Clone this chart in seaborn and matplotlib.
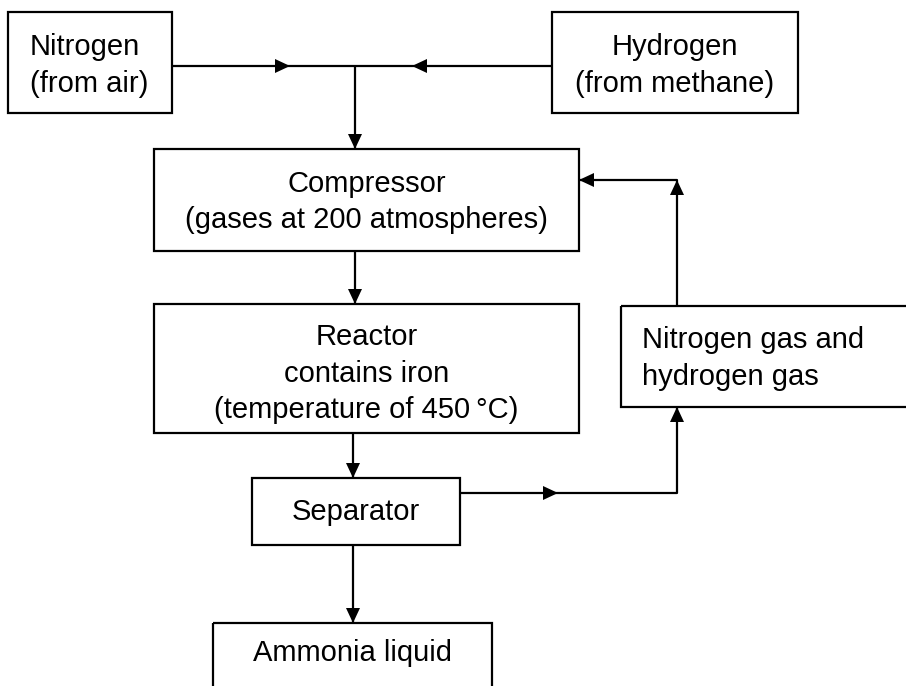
import matplotlib.pyplot as plt
import seaborn as sns
from matplotlib.patches import Rectangle, Polygon

# -----------------------------------
# DATA (labels of the flow diagram)
# -----------------------------------

nitrogen_label = "Nitrogen\n(from air)"
hydrogen_label = "Hydrogen\n(from methane)"
compressor_label = "Compressor\n(gases at 200 atmospheres)"
reactor_label = "Reactor\ncontains iron\n(temperature of 450\u2009\u00b0C)"
recycle_label = "Nitrogen gas and\nhydrogen gas"
separator_label = "Separator"
ammonia_label = "Ammonia liquid"

# -----------------------------------
# LAYOUT (pixel coords, y down)
# -----------------------------------

# name: (x0, y0, x1, y1)
boxes = {
    "nitrogen": (8, 12, 172, 113),
    "hydrogen": (552, 12, 798, 113),
    "compressor": (154, 149, 579, 251),
    "reactor": (154, 304, 579, 433),
    "recycle": (621, 306, 960, 407),
    "separator": (252, 478, 460, 545),
    "ammonia": (213, 623, 492, 760),
}

sns.set_style("white")
plt.rcParams["font.family"] = ["Liberation Sans", "DejaVu Sans"]

fig = plt.figure(figsize=(9.06, 6.86), dpi=100)
ax = fig.add_axes([0, 0, 1, 1])
ax.set_xlim(0, 906)
ax.set_ylim(686, 0)
ax.axis("off")

LW = 1.6
FS = 21


def box(name):
    x0, y0, x1, y1 = boxes[name]
    ax.add_patch(Rectangle((x0, y0), x1 - x0, y1 - y0, fill=False,
                           edgecolor="black", lw=LW, zorder=2))


def head(tip, direction, length=15, half=7):
    # filled triangle arrowhead
    tx, ty = tip
    dx, dy = direction
    bx, by = tx - dx * length, ty - dy * length
    px, py = -dy * half, dx * half
    ax.add_patch(Polygon([(tx, ty), (bx + px, by + py), (bx - px, by - py)],
                         closed=True, color="black", lw=0, zorder=3))


def line(xs, ys):
    ax.plot(xs, ys, color="black", lw=LW, solid_capstyle="butt", zorder=1)


for name in boxes:
    box(name)


def label(name, text, ha="center", dy=0, pad=0, dx=0, ma="center"):
    x0, y0, x1, y1 = boxes[name]
    x = (x0 + x1) / 2 if ha == "center" else x0 + pad
    ax.text(x + dx, (y0 + y1) / 2 + dy, text, ha=ha, va="center", fontsize=FS,
            linespacing=1.4, color="black", multialignment=ma)


label("nitrogen", nitrogen_label, dy=3, dx=-1, ma="left")
label("hydrogen", hydrogen_label, dy=3)
label("compressor", compressor_label, dy=2)
label("reactor", reactor_label, dy=5)
label("recycle", recycle_label, ha="left", pad=21, dy=2, ma="left")
label("separator", separator_label, dy=0)
ax.text((213 + 492) / 2, 653, ammonia_label, ha="center", va="center",
        fontsize=FS, color="black")

# feed lines
line([172, 552], [66, 66])
head((290, 66), (1, 0))
head((412, 66), (-1, 0))
line([355, 355], [66, 149])
head((355, 149), (0, 1))

# main column
line([355, 355], [251, 304])
head((355, 304), (0, 1))
line([353, 353], [433, 478])
head((353, 478), (0, 1))
line([353, 353], [545, 623])
head((353, 623), (0, 1))

# recycle loop
line([460, 677, 677], [493, 493, 407])
head((558, 493), (1, 0))
head((677, 407), (0, -1))
line([677, 677, 579], [306, 180, 180])
head((677, 180), (0, -1))
head((579, 180), (-1, 0))

fig.savefig("out.png", dpi=100)
